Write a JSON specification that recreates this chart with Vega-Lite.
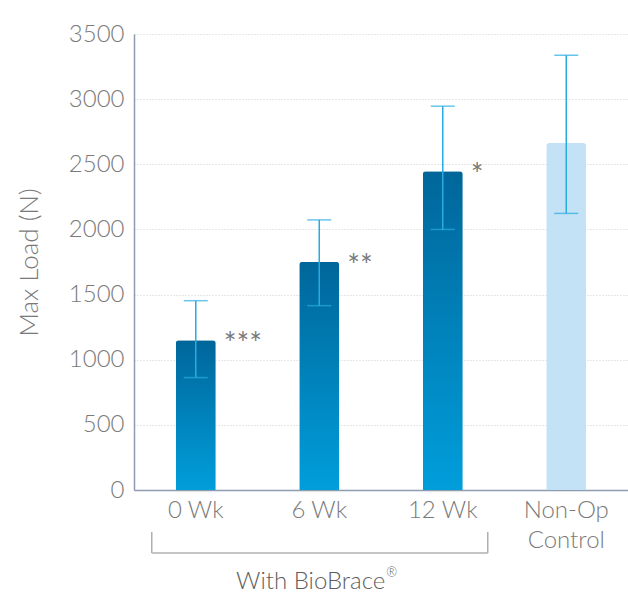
{
  "$schema": "https://vega.github.io/schema/vega-lite/v6.json",
  "width": 494,
  "height": 456,
  "autosize": {"type": "none"},
  "padding": {"left": 134, "top": 34, "right": 0, "bottom": 104},
  "background": "white",
  "config": {
    "view": {"stroke": null},
    "font": "Lato",
    "axis": {"labelFont": "Lato", "titleFont": "Lato", "labelFontWeight": 300, "titleFontWeight": 300}
  },
  "datasets": {
    "bars": [
      {"group": "0 Wk", "value": 1150, "lo": 863, "hi": 1453, "sig": "***", "treated": true},
      {"group": "6 Wk", "value": 1751, "lo": 1415, "hi": 2073, "sig": "**", "treated": true},
      {"group": "12 Wk", "value": 2446, "lo": 2000, "hi": 2946, "sig": "*", "treated": true},
      {"group": "Non-Op Control", "value": 2663, "lo": 2123, "hi": 3337, "sig": "", "treated": false}
    ],
    "bracket": [{"start": "0 Wk", "end": "12 Wk", "label": "With BioBrace", "mark": "®"}]
  },
  "data": {"name": "bars"},
  "encoding": {
    "x": {
      "field": "group", "type": "nominal", "sort": null,
      "scale": {"domain": ["0 Wk", "6 Wk", "12 Wk", "Non-Op Control"], "paddingInner": 0.676, "paddingOuter": 0.338},
      "axis": {
        "title": null, "labelAngle": 0, "labelFontSize": 24, "labelColor": "#7a7a7a",
        "labelPadding": 8, "ticks": false, "domainColor": "#8d9cae", "domainWidth": 1.5,
        "labelLineHeight": 30, "labelBaseline": "top",
        "labelExpr": "datum.label == 'Non-Op Control' ? ['Non-Op', 'Control'] : datum.label"
      }
    }
  },
  "layer": [
    {
      "transform": [{"filter": "datum.treated"}],
      "mark": {
        "type": "bar", "cornerRadiusTopLeft": 3, "cornerRadiusTopRight": 3,
        "color": {
          "gradient": "linear", "x1": 0, "y1": 0, "x2": 0, "y2": 1,
          "stops": [{"offset": 0, "color": "#00669a"}, {"offset": 1, "color": "#009edb"}]
        }
      },
      "encoding": {
        "y": {
          "field": "value", "type": "quantitative",
          "scale": {"domain": [0, 3500], "nice": false},
          "axis": {
            "title": "Max Load (N)", "titleFontSize": 26, "titleColor": "#7a7a7a", "titlePadding": 26,
            "values": [0, 500, 1000, 1500, 2000, 2500, 3000, 3500], "format": "d",
            "labelFontSize": 24, "labelColor": "#7a7a7a", "labelPadding": 10, "ticks": false,
            "domainColor": "#8d9cae", "domainWidth": 1.5,
            "grid": true, "gridColor": "#cfcfcf", "gridDash": [1, 2], "gridWidth": 1
          }
        }
      }
    },
    {
      "transform": [{"filter": "!datum.treated"}],
      "mark": {"type": "bar", "color": "#c4e2f5", "cornerRadiusTopLeft": 3, "cornerRadiusTopRight": 3},
      "encoding": {"y": {"field": "value", "type": "quantitative"}}
    },
    {
      "mark": {"type": "rule", "color": "#29abe2", "strokeWidth": 1.5},
      "encoding": {"y": {"field": "lo", "type": "quantitative"}, "y2": {"field": "hi"}}
    },
    {
      "mark": {"type": "tick", "color": "#29abe2", "size": 24, "thickness": 1.5},
      "encoding": {"y": {"field": "lo", "type": "quantitative"}}
    },
    {
      "mark": {"type": "tick", "color": "#29abe2", "size": 24, "thickness": 1.5},
      "encoding": {"y": {"field": "hi", "type": "quantitative"}}
    },
    {
      "mark": {"type": "text", "align": "left", "baseline": "middle", "dx": 28, "dy": 5, "fontSize": 30, "color": "#7a7a7a", "font": "Lato"},
      "encoding": {"y": {"field": "value", "type": "quantitative"}, "text": {"field": "sig"}}
    },
    {
      "data": {"name": "bracket"},
      "mark": {"type": "rule", "color": "#b0b0b0", "strokeWidth": 1.5, "xOffset": -44, "x2Offset": 45},
      "encoding": {"x": {"field": "start"}, "x2": {"field": "end"}, "y": {"datum": -484}}
    },
    {
      "data": {"name": "bracket"},
      "mark": {"type": "rule", "color": "#b0b0b0", "strokeWidth": 1.5, "xOffset": -44},
      "encoding": {"x": {"field": "start"}, "y": {"datum": -322}, "y2": {"datum": -484}}
    },
    {
      "data": {"name": "bracket"},
      "mark": {"type": "rule", "color": "#b0b0b0", "strokeWidth": 1.5, "xOffset": 45},
      "encoding": {"x": {"field": "end"}, "y": {"datum": -322}, "y2": {"datum": -484}}
    },
    {
      "data": {"name": "bracket"},
      "mark": {"type": "text", "baseline": "middle", "align": "right", "dx": 66, "fontSize": 24, "fontWeight": 300, "color": "#5e5e5e", "font": "Lato"},
      "encoding": {"x": {"datum": "6 Wk"}, "y": {"datum": -706}, "text": {"field": "label"}}
    },
    {
      "data": {"name": "bracket"},
      "mark": {"type": "text", "baseline": "middle", "align": "left", "dx": 67, "dy": -9, "fontSize": 13, "fontWeight": 300, "color": "#5e5e5e", "font": "Lato"},
      "encoding": {"x": {"datum": "6 Wk"}, "y": {"datum": -706}, "text": {"field": "mark"}}
    }
  ]
}
